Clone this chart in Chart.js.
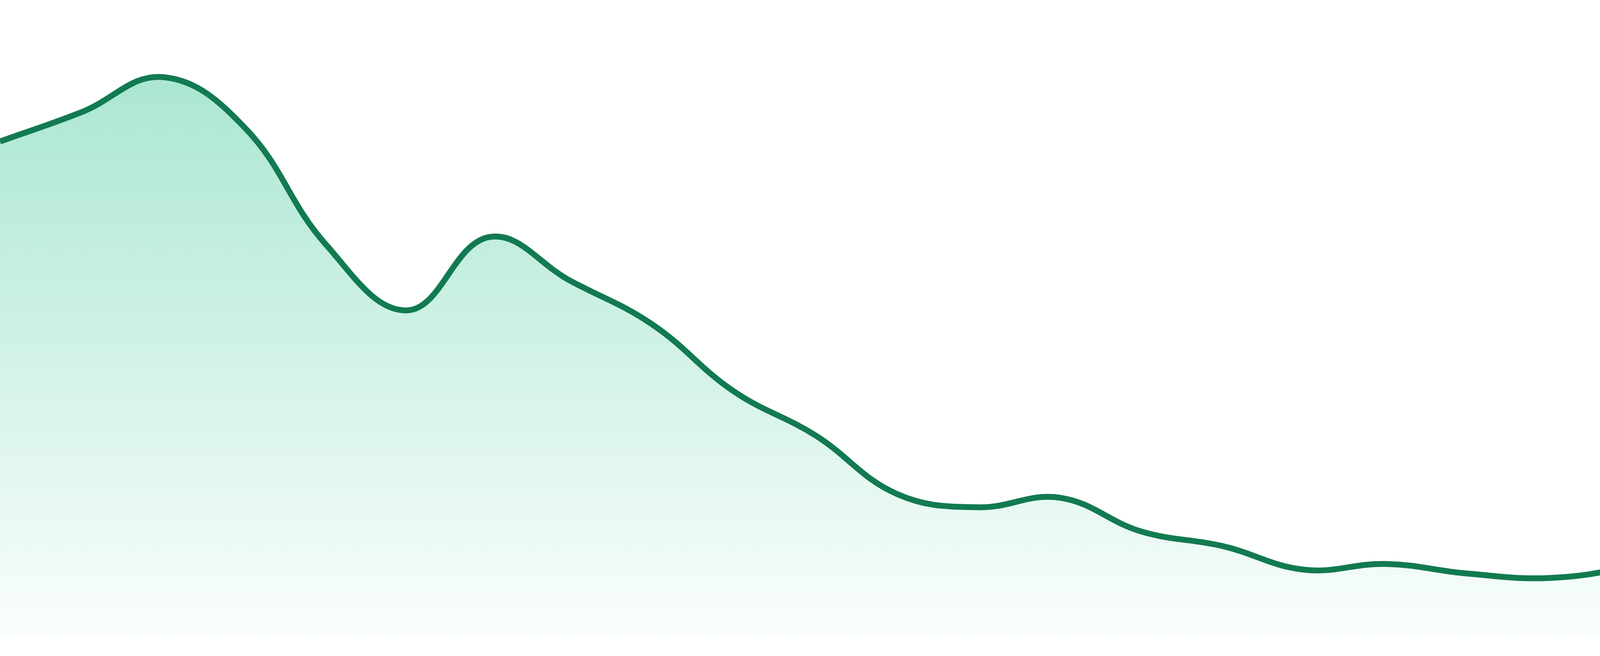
<!DOCTYPE html>
<html>
<head>
<meta charset="utf-8">
<script src="https://cdn.jsdelivr.net/npm/chart.js@4.4.1/dist/chart.umd.min.js"></script>
<style>
    html, body { margin: 0; padding: 0; background: #ffffff; }
    #wrap { width: 4800px; height: 1680px; position: relative; }
</style>
</head>
<body>
<div id="wrap"><canvas id="trendChart"></canvas></div>
<script>
// Data
const labels = ['1', '2', '3', '4', '5', '6', '7', '8', '9', '10', '11', '12',
                '13', '14', '15', '16', '17', '18', '19', '20', '21', '22', '23', '24'];
const values = [77.8, 82.4, 87.9, 80.0, 61.6, 51.3, 62.8, 55.9, 49.1, 38.6, 31.7, 22.5,
                20.4, 21.9, 16.6, 14.3, 10.6, 11.5, 10.0, 9.3, 11.1, 14.5, 23.3, 20.0];
const yMin = 0;
const yMax = 100;

// Area gradient, built once the chart area is known
function areaGradient(context) {
    const chart = context.chart;
    const area = chart.chartArea;
    if (!area) return 'rgba(16, 185, 129, 0.2)';
    const g = chart.ctx.createLinearGradient(0, area.top, 0, area.bottom);
    g.addColorStop(0, 'rgba(16, 185, 129, 0.40)');
    g.addColorStop(1, 'rgba(16, 185, 129, 0.02)');
    return g;
}

const ctx = document.getElementById('trendChart').getContext('2d');
const trendChart = new Chart(ctx, {
    type: 'line',
    data: {
        labels: labels,
        datasets: [{
            data: values,
            borderColor: '#127a50',
            borderWidth: 15,
            backgroundColor: areaGradient,
            fill: 'start',
            tension: 0.4,
            pointRadius: 0,
            pointHoverRadius: 0
        }]
    },
    options: {
        responsive: true,
        maintainAspectRatio: false,
        animation: false,
        devicePixelRatio: 1,
        layout: { padding: { top: 0, bottom: 48, left: 0, right: 0 } },
        plugins: {
            legend: { display: false },
            tooltip: { enabled: false }
        },
        scales: {
            x: { display: false, offset: false },
            y: { display: false, min: yMin, max: yMax }
        }
    }
});
</script>
</body>
</html>
